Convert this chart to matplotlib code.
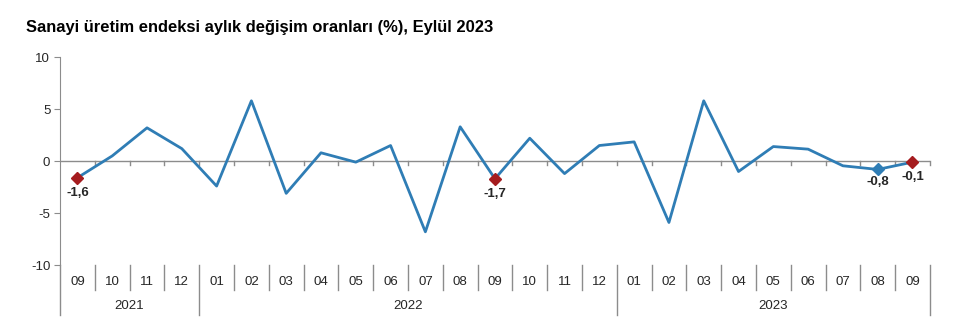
import numpy as np
import matplotlib.pyplot as plt
from matplotlib.transforms import blended_transform_factory

plt.rcParams['font.family'] = ['Liberation Sans', 'DejaVu Sans']

months = ['09', '10', '11', '12',
          '01', '02', '03', '04', '05', '06', '07', '08', '09', '10', '11', '12',
          '01', '02', '03', '04', '05', '06', '07', '08', '09']
years = ['2021', '2022', '2023']
year_counts = [4, 12, 9]
values = [-1.6, 0.5, 3.2, 1.2,
          -2.4, 5.8, -3.1, 0.8, -0.1, 1.5, -6.8, 3.3, -1.7, 2.2, -1.2, 1.5,
          1.85, -5.9, 5.8, -1.0, 1.4, 1.15, -0.45, -0.8, -0.1]
red_points = [0, 12, 24]
blue_points = [23]
labels = {0: '-1,6', 12: '-1,7', 23: '-0,8', 24: '-0,1'}
label_offsets = {0: -11, 12: -11, 23: -9, 24: -10.5}

line_color = '#2f7db5'
red = '#a51c1f'
grey = '#8c8c8c'
text_color = '#262626'

fig = plt.figure(figsize=(9.73, 3.36), dpi=100)
ax = fig.add_axes([0.0617, 0.211, 0.894, 0.619])

x = np.arange(len(values))
ax.plot(x, values, color=line_color, lw=2, zorder=3, clip_on=False)
ax.plot(x[red_points], [values[i] for i in red_points], 'D', color=red,
        ms=6, zorder=4, clip_on=False)
ax.plot(x[blue_points], [values[i] for i in blue_points], 'D', color=line_color,
        ms=6, zorder=4, clip_on=False)
for i, t in labels.items():
    ax.annotate(t, (i, values[i]), xytext=(0, label_offsets[i]), textcoords='offset points',
                ha='center', va='center', fontsize=9.5, fontweight='bold',
                color=text_color)

ax.set_xlim(-0.5, len(values) - 0.5)
ax.set_ylim(-10, 10)
ax.set_yticks([-10, -5, 0, 5, 10])
ax.set_yticklabels(['-10', '-5', '0', '5', '10'])
ax.tick_params(axis='y', length=4, color=grey, labelsize=9.5, labelcolor=text_color, pad=3)
ax.set_xticks([])
for s in ['top', 'right', 'bottom']:
    ax.spines[s].set_visible(False)
ax.spines['left'].set_color(grey)
ax.spines['left'].set_bounds(-10, 10)

# zero line with ticks at category boundaries
ax.axhline(0, color=grey, lw=1, zorder=2)
trans = blended_transform_factory(ax.transData, ax.transAxes)
for b in np.arange(0.5, len(values), 1.0):
    ax.plot([b, b], [0.5, 0.48], color=grey, lw=1, transform=trans, clip_on=False)

# left axis extended downward
ax.plot([-0.5, -0.5], [0, -0.24], color=grey, lw=1, transform=trans, clip_on=False)

# month category separators and labels
for i, m in enumerate(months):
    ax.text(i, -0.082, m, transform=trans, ha='center', va='center',
            fontsize=9.5, color=text_color)
year_bounds = np.cumsum(year_counts) - 0.5
for b in np.arange(0.5, len(values), 1.0):
    low = -0.24 if b in year_bounds else -0.12
    ax.plot([b, b], [0, low], color=grey, lw=1, transform=trans, clip_on=False)

start = -0.5
for y, c in zip(years, year_counts):
    ax.text(start + c / 2, -0.197, y, transform=trans, ha='center', va='center',
            fontsize=9.5, color=text_color)
    start += c

fig.text(0.027, 0.917, 'Sanayi üretim endeksi aylık değişim oranları (%), Eylül 2023',
         fontsize=11.9, fontweight='bold', color='black', va='center')

fig.savefig('out.png', dpi=100)
